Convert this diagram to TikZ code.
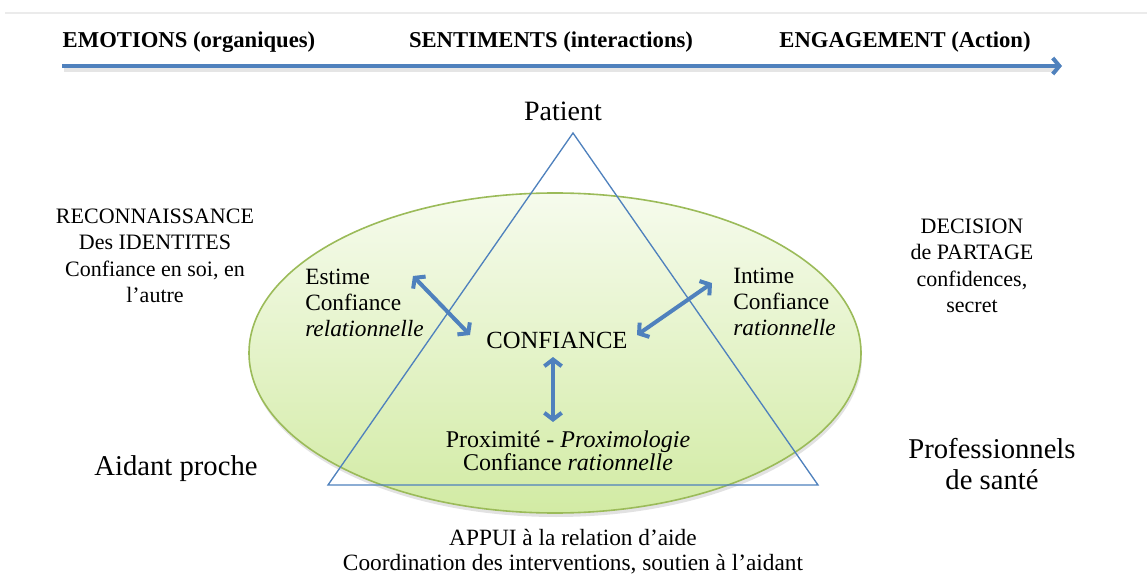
\documentclass[tikz,border=0pt]{standalone}
\usepackage{fontspec}
\setmainfont{Liberation Serif}
\usetikzlibrary{arrows.meta,shadows}
\definecolor{tblue}{RGB}{79,129,189}
\definecolor{egreen}{RGB}{155,187,89}
\definecolor{gtop}{RGB}{246,251,237}
\definecolor{gbot}{RGB}{210,235,164}
\begin{document}
\begin{tikzpicture}[x=0.75pt,y=-0.75pt,
  toplab/.style={font=\bfseries\fontsize{17}{19}\selectfont, inner sep=0pt},
  side/.style={align=center, font=\fontsize{16.5}{19.9}\selectfont, inner sep=0pt},
  big/.style={align=center, font=\fontsize{21.5}{23.3}\selectfont, inner sep=0pt},
  inner/.style={align=left, font=\fontsize{17.5}{19.5}\selectfont, inner sep=0pt},
  bigarrow/.style={tblue, line width=3pt, -{Straight Barb[length=5pt,width=12pt]}},
  dbl/.style={tblue, line width=3pt, {Straight Barb[length=5pt,width=13pt]}-{Straight Barb[length=5pt,width=13pt]}},
  tri/.style={tblue, line width=1pt, line join=miter}]
\useasboundingbox (0,0) rectangle (1147,574);
\draw[black!8, line width=1pt] (5,13) -- (1147,13);
% top axis
\node[toplab] (emo) at (189,42) {EMOTIONS (organiques)};
\node[toplab] (sen) at (551,42) {SENTIMENTS (interactions)};
\node[toplab] (eng) at (905,42) {ENGAGEMENT (Action)};
\coordinate (a0) at (62,66);
\coordinate (a1) at (1062,66);
\draw[black!20, line width=3pt, opacity=0.5] (64,70) -- (1058,70);
\draw[bigarrow] (a0) -- (a1);
% ellipse
\fill[black!25, opacity=0.45] (556,357) ellipse [x radius=229.5pt, y radius=120pt];
\path[draw=egreen, line width=1.2pt, top color=gtop, bottom color=gbot] (555,353) ellipse [x radius=229.5pt, y radius=120pt];
% triangle
\coordinate (P) at (573,133);
\coordinate (L) at (328,485);
\coordinate (R) at (818,485);
\draw[tri] (P) -- (L) -- (R) -- cycle;
% corner labels
\node[big, font=\fontsize{21}{23}\selectfont] (pat) at (563,111) {Patient};
\node[big] (aid) at (176,469) {Aidant proche};
\node[big] (pro) at (992,464) {Professionnels\\de santé};
% side labels
\node[side] (rec) at (155,256) {RECONNAISSANCE\\Des IDENTITES\\Confiance en soi, en\\l’autre};
\node[side] (dec) at (972,266) {DECISION\\de PARTAGE\\confidences,\\secret};
\node[side, font=\fontsize{17.5}{18.7}\selectfont] (app) at (573,552) {APPUI à la relation d’aide\\Coordination des interventions, soutien à l’aidant};
% inner labels
\node[inner, anchor=west] (est) at (305,303) {Estime\\Confiance\\\textit{relationnelle}};
\node[inner, anchor=west] (int) at (733,302) {Intime\\Confiance\\\textit{rationnelle}};
\node[big, font=\fontsize{18.5}{20}\selectfont] (conf) at (557,340) {CONFIANCE};
\node[side, font=\fontsize{18}{15}\selectfont] (prox) at (568,451) {Proximité - \textit{Proximologie}\\Confiance \textit{rationnelle}};
% double arrows
\coordinate (e1) at (413,276);
\coordinate (e2) at (470,335);
\coordinate (i1) at (712,283);
\coordinate (i2) at (637,335);
\coordinate (v1) at (553,357);
\coordinate (v2) at (553,422);
\draw[dbl] (e1) -- (e2);
\draw[dbl] (i1) -- (i2);
\draw[dbl] (v1) -- (v2);
\end{tikzpicture}
\end{document}
